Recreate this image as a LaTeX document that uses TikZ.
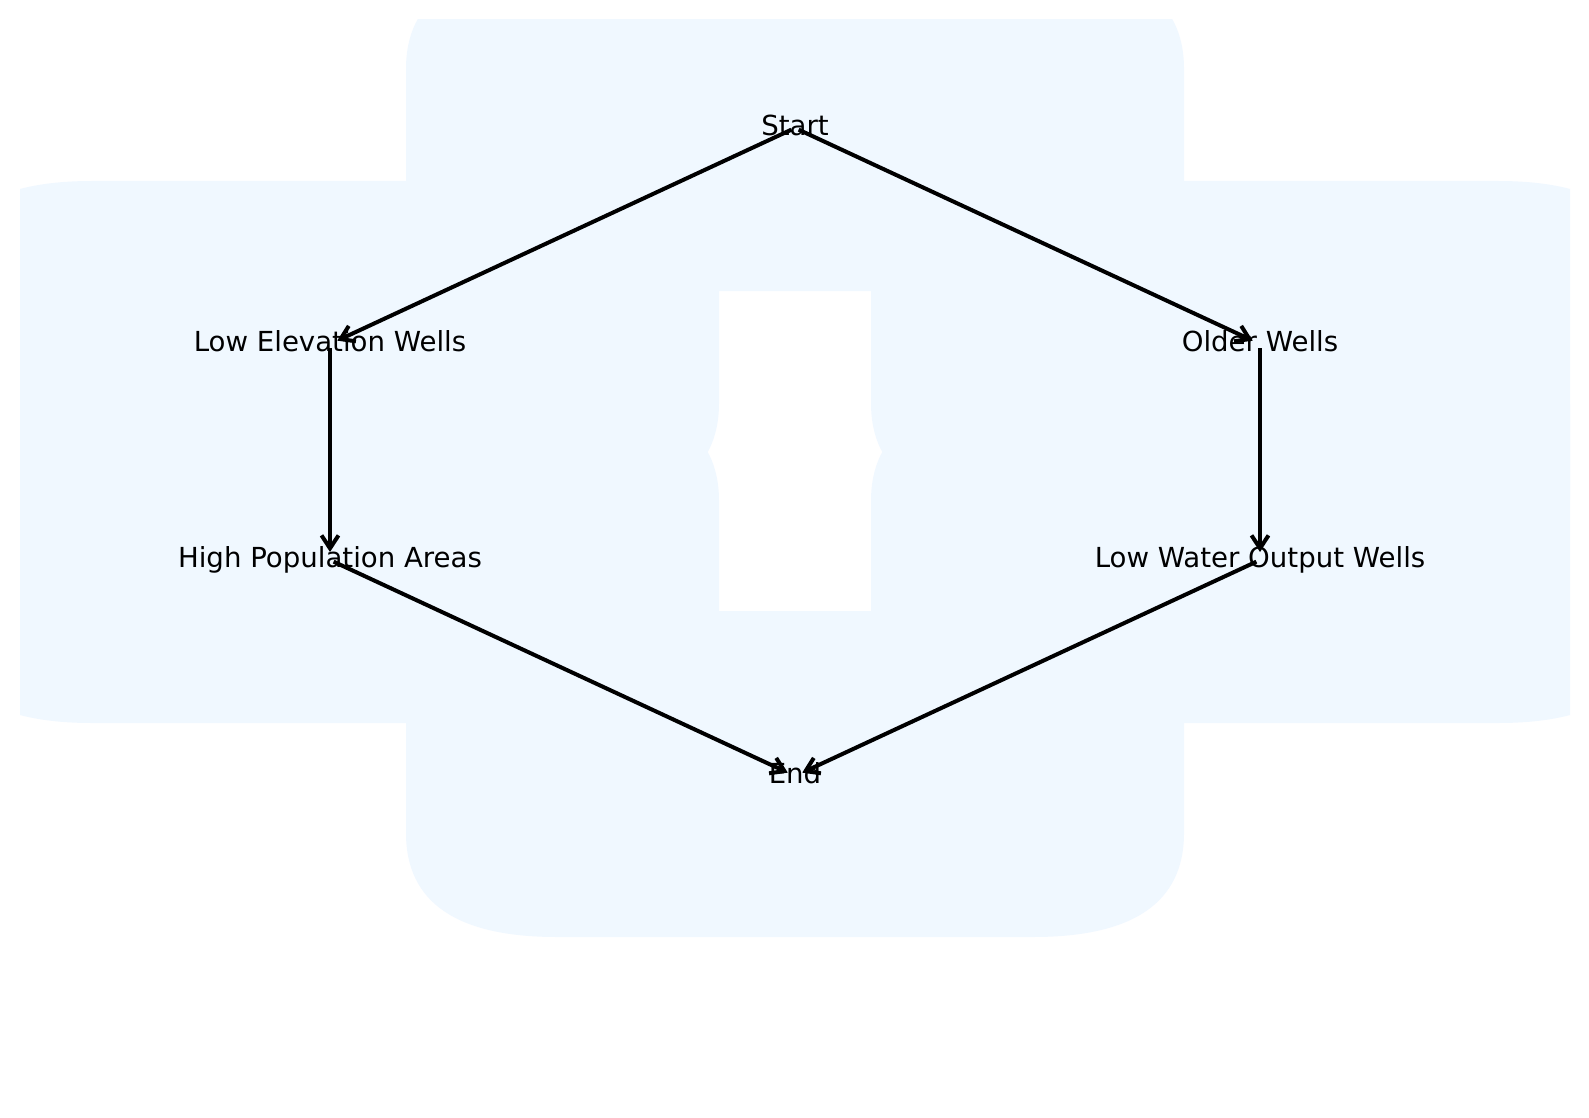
\documentclass[tikz,border=0pt]{standalone}
\usepackage{fontspec}
\setmainfont{DejaVu Sans}
\usepackage{tikz}
\usetikzlibrary{arrows.meta}

\definecolor{boxblue}{RGB}{240,248,255}

\tikzset{
  lbl/.style={inner sep=0pt, text height=0.97em, text depth=0.24em, font=\fontsize{13.8}{16}\selectfont},
  flow/.style={line width=2pt, -{Straight Barb[length=6.5pt,width=8.5pt]}, shorten >=4pt, shorten <=2pt}
}

\begin{document}
\begin{tikzpicture}[x=0.5pt,y=0.5pt,yscale=-1,xscale=1]

\useasboundingbox (0,0) rectangle (1589,1118);
\fill [white] (0,0) rectangle (1589,1118);

\begin{scope}
\clip (20,20) rectangle (1570,1098);
%Rounded Box: Start
\fill [boxblue] (406,69) .. controls (406,0) and (456,-35) .. (557,-35) -- (1033,-35) .. controls (1134,-35) and (1184,0) .. (1184,69) -- (1184,187) .. controls (1184,256) and (1134,291) .. (1033,291) -- (557,291) .. controls (456,291) and (406,256) .. (406,187) -- cycle ;
%Rounded Box: Low Elevation Wells
\fill [boxblue] (-59,285) .. controls (-59,216) and (-9,181) .. (92,181) -- (568,181) .. controls (669,181) and (719,216) .. (719,285) -- (719,403) .. controls (719,472) and (669,507) .. (568,507) -- (92,507) .. controls (-9,507) and (-59,472) .. (-59,403) -- cycle ;
%Rounded Box: Older Wells
\fill [boxblue] (871,285) .. controls (871,216) and (921,181) .. (1022,181) -- (1498,181) .. controls (1599,181) and (1649,216) .. (1649,285) -- (1649,403) .. controls (1649,472) and (1599,507) .. (1498,507) -- (1022,507) .. controls (921,507) and (871,472) .. (871,403) -- cycle ;
%Rounded Box: High Population Areas
\fill [boxblue] (-59,501) .. controls (-59,432) and (-9,397) .. (92,397) -- (568,397) .. controls (669,397) and (719,432) .. (719,501) -- (719,619) .. controls (719,688) and (669,723) .. (568,723) -- (92,723) .. controls (-9,723) and (-59,688) .. (-59,619) -- cycle ;
%Rounded Box: Low Water Output Wells
\fill [boxblue] (871,501) .. controls (871,432) and (921,397) .. (1022,397) -- (1498,397) .. controls (1599,397) and (1649,432) .. (1649,501) -- (1649,619) .. controls (1649,688) and (1599,723) .. (1498,723) -- (1022,723) .. controls (921,723) and (871,688) .. (871,619) -- cycle ;
%Rounded Box: End
\fill [boxblue] (406,715) .. controls (406,646) and (456,611) .. (557,611) -- (1033,611) .. controls (1134,611) and (1184,646) .. (1184,715) -- (1184,833) .. controls (1184,902) and (1134,937) .. (1033,937) -- (557,937) .. controls (456,937) and (406,902) .. (406,833) -- cycle ;
\end{scope}

% Text Node
\node [lbl] (start) at (795,128) {Start};
% Text Node
\node [lbl] (lowelev) at (330,344) {Low Elevation Wells};
% Text Node
\node [lbl] (older) at (1260,344) {Older Wells};
% Text Node
\node [lbl] (highpop) at (330,560) {High Population Areas};
% Text Node
\node [lbl] (lowwater) at (1260,560) {Low Water Output Wells};
% Text Node
\node [lbl] (end) at (795,776) {End};

%Straight Lines
\draw [flow] (start.center) -- (lowelev.center) ;
%Straight Lines
\draw [flow] (start.center) -- (older.center) ;
%Straight Lines
\draw [flow] (lowelev.center) -- (highpop.center) ;
%Straight Lines
\draw [flow] (older.center) -- (lowwater.center) ;
%Straight Lines
\draw [flow] (highpop.center) -- (end.center) ;
%Straight Lines
\draw [flow] (lowwater.center) -- (end.center) ;

\end{tikzpicture}
\end{document}
